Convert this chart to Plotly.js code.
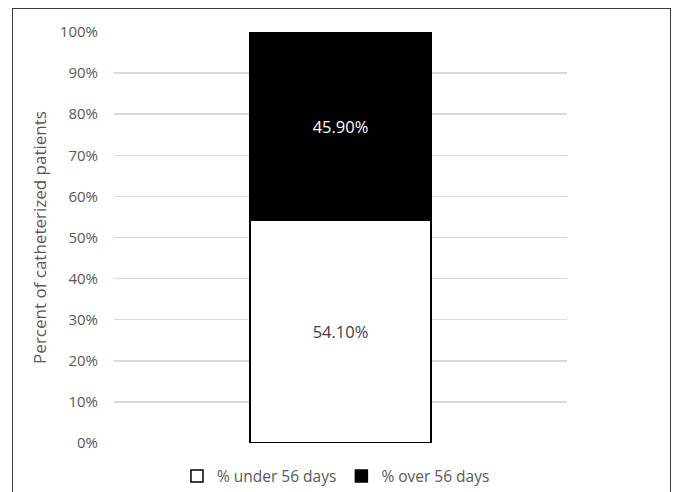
<!DOCTYPE html>
<html>
<head>
<meta charset="utf-8">
<script src="https://cdn.plot.ly/plotly-3.0.1.min.js"></script>
<style>
  html, body { margin: 0; padding: 0; background: #ffffff; }
  #frame { position: absolute; left: 12px; top: 8px; width: 659px; height: 500px;
           border: 1px solid #3c3c3c; box-sizing: border-box; }
  #chart { position: absolute; left: 0; top: 0; width: 675px; height: 492px; }
</style>
</head>
<body>
<div id="frame"></div>
<div id="chart"></div>
<script>
// One group of catheterized patients, split by catheter duration
const categories = ['Catheterized patients'];
const underValues = [54.1];
const overValues = [45.9];
const seriesNames = ['% under 56 days', '% over 56 days'];
const yTickValues = [0, 10, 20, 30, 40, 50, 60, 70, 80, 90, 100];
const yTickLabels = ['0%', '10%', '20%', '30%', '40%', '50%', '60%', '70%', '80%', '90%', '100%'];

const fontFamily = '"Open Sans", "Noto Sans", sans-serif';
const textGray = '#595959';

const traces = [
  {
    type: 'bar',
    name: seriesNames[0],
    x: categories,
    y: underValues,
    marker: { color: '#ffffff', line: { color: '#000000', width: 1.5 } },
    texttemplate: '%{y:.2f}%',
    textposition: 'inside',
    insidetextanchor: 'middle',
    textangle: 0,
    textfont: { family: fontFamily, size: 16.5, color: '#404040' },
    hoverinfo: 'skip'
  },
  {
    type: 'bar',
    name: seriesNames[1],
    x: categories,
    y: overValues,
    marker: { color: '#000000', line: { color: '#000000', width: 1.5 } },
    texttemplate: '%{y:.2f}%',
    textposition: 'inside',
    insidetextanchor: 'middle',
    textangle: 0,
    textfont: { family: fontFamily, size: 16.5, color: '#ffffff' },
    hoverinfo: 'skip'
  }
];

const layout = {
  width: 675,
  height: 492,
  paper_bgcolor: 'rgba(0,0,0,0)',
  plot_bgcolor: '#ffffff',
  margin: { l: 114, r: 108, t: 31.5, b: 48.5, autoexpand: false },
  barmode: 'stack',
  bargap: 0.6,
  font: { family: fontFamily, size: 14, color: textGray },
  xaxis: {
    type: 'category',
    showticklabels: false,
    showgrid: false,
    zeroline: false,
    showline: false,
    ticks: '',
    fixedrange: true
  },
  yaxis: {
    range: [0, 100],
    tickmode: 'array',
    tickvals: yTickValues,
    ticktext: yTickLabels,
    showgrid: true,
    gridcolor: '#d9d9d9',
    gridwidth: 1.5,
    zeroline: false,
    showline: false,
    ticks: '',
    ticklabelstandoff: 15,
    tickfont: { family: fontFamily, size: 15, color: textGray },
    title: {
      text: 'Percent of catheterized patients',
      font: { family: fontFamily, size: 17, color: textGray },
      standoff: 8
    },
    automargin: false,
    fixedrange: true
  },
  showlegend: true,
  legend: {
    orientation: 'h',
    traceorder: 'normal',
    x: 0.49,
    xanchor: 'center',
    y: -0.04,
    yanchor: 'top',
    font: { family: fontFamily, size: 15.5, color: textGray },
    itemwidth: 30,
    bgcolor: 'rgba(0,0,0,0)'
  }
};

Plotly.newPlot('chart', traces, layout, { displayModeBar: false, staticPlot: true });
</script>
</body>
</html>
